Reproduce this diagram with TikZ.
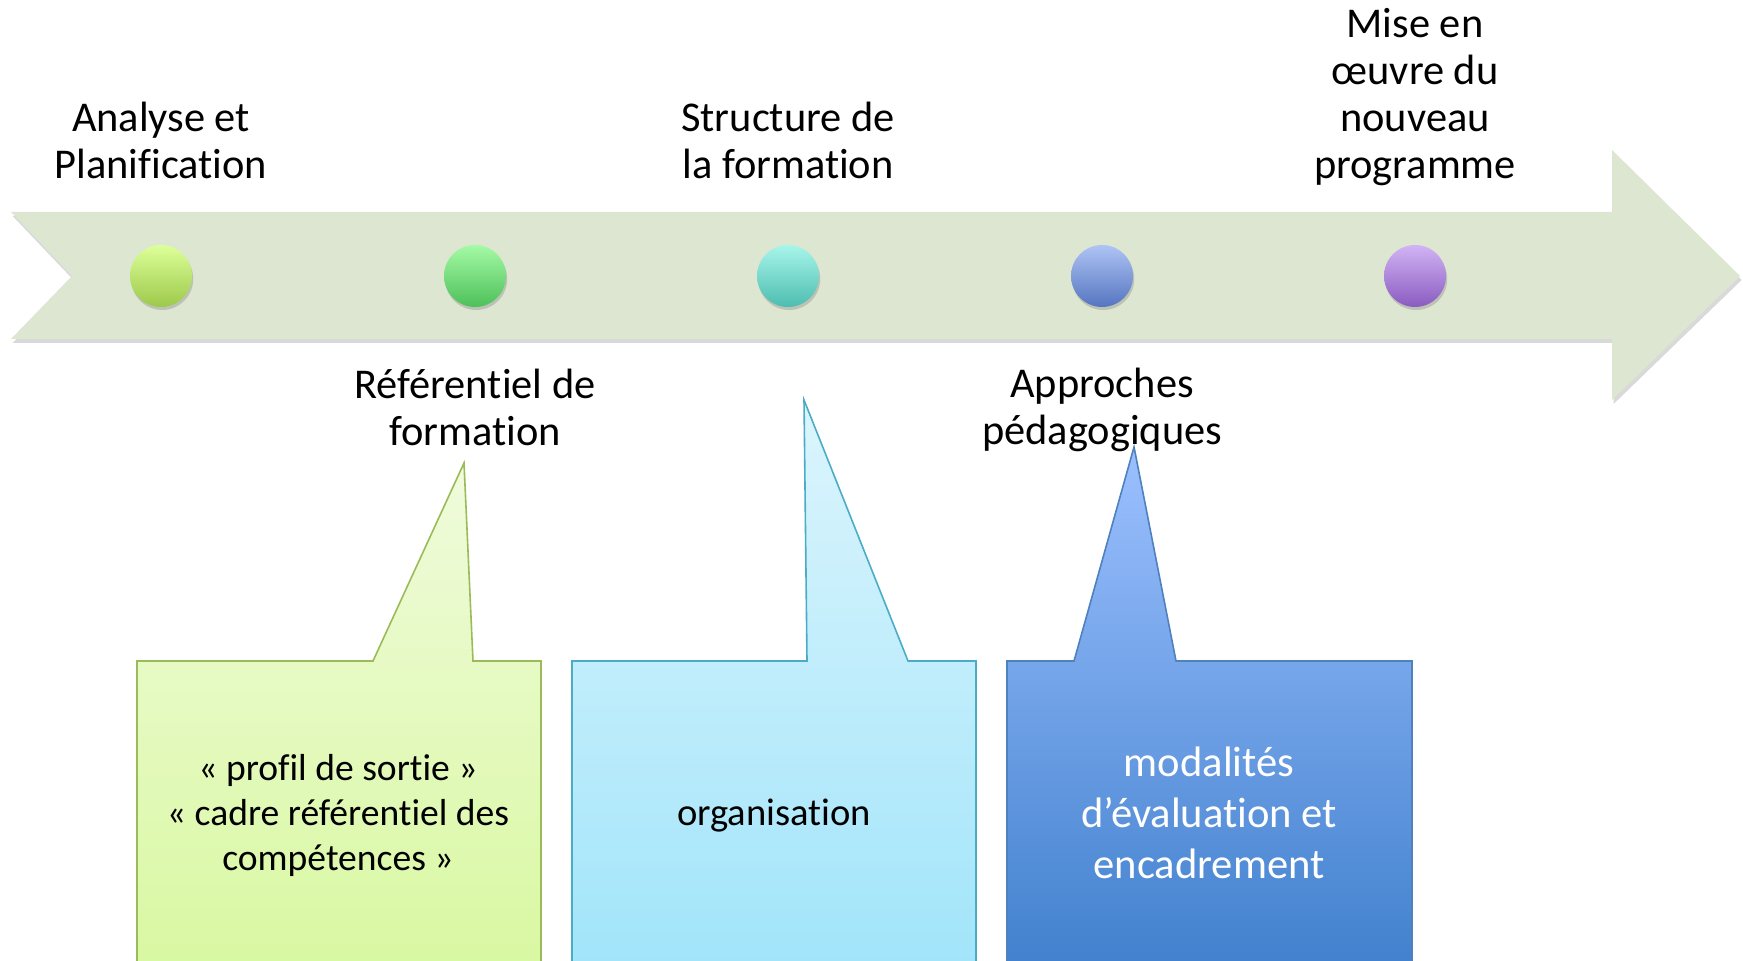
\documentclass[tikz,border=0pt]{standalone}
\usepackage{fontspec}
\setmainfont{Carlito}[Ligatures={NoCommon,NoContextual}]
\usetikzlibrary{shadows}
\definecolor{bandfill}{HTML}{DDE6D1}
\definecolor{greenline}{HTML}{9BBB59}
\definecolor{cyanline}{HTML}{4BACC6}
\definecolor{blueline}{HTML}{4F81BD}

\begin{document}
\begin{tikzpicture}[x=0.5pt, y=0.5pt,
  txt/.style={align=center, font=\fontsize{21.2}{23.5}\selectfont},
  dot/.style={circle, minimum size=31pt, inner sep=0pt,
    drop shadow={shadow xshift=0.6pt, shadow yshift=-1.5pt, opacity=0.35}},
  bubble/.style={line width=0.8pt}]
\useasboundingbox (0,0) rectangle (1743,961);

\fill[bandfill, drop shadow={shadow xshift=0.8pt, shadow yshift=-2pt, opacity=0.3}]
  (11,749) -- (72,685) -- (11,622) -- (1612,622) -- (1612,561)
  -- (1740,685) -- (1612,811) -- (1612,749) -- cycle;

\node[dot, top color={rgb,255:red,221;green,255;blue,153}, bottom color={rgb,255:red,156;green,201;blue,74}] (s1) at (161,685) {};
\node[dot, top color={rgb,255:red,165;green,250;blue,165}, bottom color={rgb,255:red,77;green,192;blue,90}] (s2) at (475,685) {};
\node[dot, top color={rgb,255:red,168;green,245;blue,234}, bottom color={rgb,255:red,77;green,189;blue,176}] (s3) at (788,685) {};
\node[dot, top color={rgb,255:red,175;green,196;blue,245}, bottom color={rgb,255:red,85;green,117;blue,192}] (s4) at (1102,685) {};
\node[dot, top color={rgb,255:red,210;green,180;blue,245}, bottom color={rgb,255:red,138;green,91;blue,192}] (s5) at (1415,685) {};

\node[txt] (analyse) at (161,821) {Analyse et\\Planification};
\node[txt] (structure) at (788,821) {Structure de\\la formation};
\node[txt] (miseoeuvre) at (1415,864) {Mise en\\œuvre du\\nouveau\\programme};
\node[txt] (referentiel) at (475,554) {Référentiel de\\formation};
\node[txt] (approches) at (1102,551) {Approches\\pédagogiques};

\draw[bubble, draw=greenline, top color={rgb,255:red,240;green,251;blue,220}, bottom color={rgb,255:red,216;green,248;blue,160}]
  (137,-20) -- (137,300) -- (373,300) -- (464,498) -- (473,300) -- (541,300) -- (541,-20) -- cycle;
\draw[bubble, draw=cyanline, top color={rgb,255:red,220;green,245;blue,253}, bottom color={rgb,255:red,160;green,228;blue,250}]
  (572,-20) -- (572,300) -- (807,300) -- (804,561) -- (908,300) -- (976,300) -- (976,-20) -- cycle;
\draw[bubble, draw=blueline, top color={rgb,255:red,156;green,192;blue,255}, bottom color={rgb,255:red,63;green,127;blue,204}]
  (1007,-20) -- (1007,300) -- (1074,300) -- (1134,514) -- (1176,300) -- (1412,300) -- (1412,-20) -- cycle;

\node[txt, font=\fontsize{18.8}{22.5}\selectfont] (profil) at (338,146) {« profil de sortie »\\« cadre référentiel des\\compétences »};
\node[txt, font=\fontsize{19.3}{23.5}\selectfont] (organisation) at (774,145) {organisation};
\node[txt, text=white, font=\fontsize{21.3}{25.5}\selectfont] (modalites) at (1209,148) {modalités\\d’évaluation et\\encadrement};
\end{tikzpicture}
\end{document}
